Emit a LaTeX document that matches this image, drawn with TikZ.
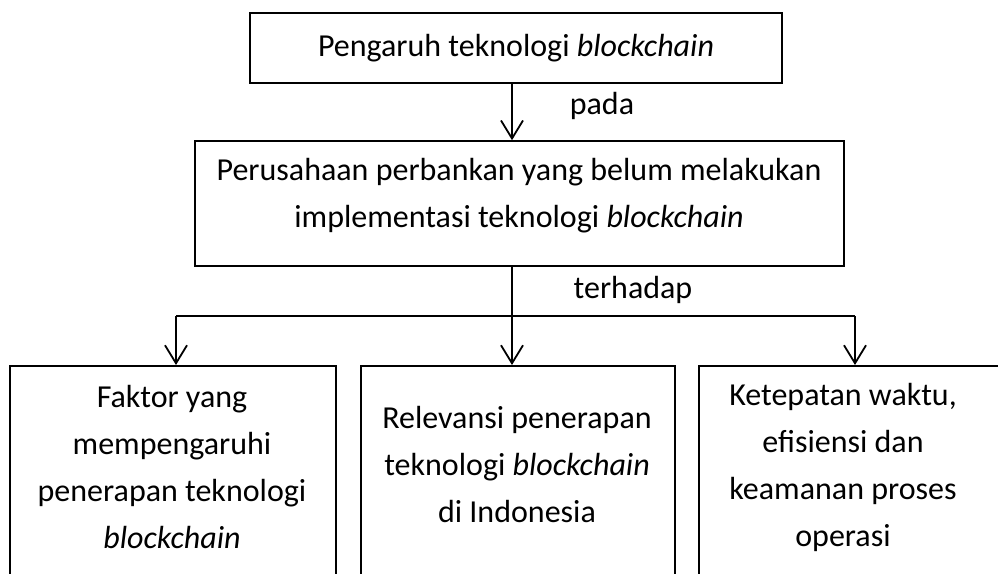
\documentclass[tikz,border=0pt]{standalone}
\usepackage{fontspec}
\setmainfont{Carlito}
\usetikzlibrary{arrows.meta}
\begin{document}
\begin{tikzpicture}[x=1pt,y=-1pt,
  box/.style={draw, line width=1.6pt, inner sep=0pt, rectangle},
  lbl/.style={font=\fontsize{32}{47}\selectfont, align=center, inner sep=0pt},
  conn/.style={line width=1.8pt},
  arr/.style={conn, -{Straight Barb[length=18pt,width=22pt]}}]
\useasboundingbox (0,0) rectangle (998,573);
\clip (0,0) rectangle (998,573);
% boxes
\node[box, minimum width=532pt, minimum height=70pt] (top) at (516,48) {};
\node[box, minimum width=649pt, minimum height=125pt] (mid) at (519.5,203.5) {};
\node[box, anchor=north west, minimum width=326pt, minimum height=260pt] (b1) at (9,365) {};
\node[box, anchor=north west, minimum width=314pt, minimum height=260pt] (b2) at (360,365) {};
\node[box, anchor=north west, minimum width=320pt, minimum height=260pt] (b3) at (698,365) {};
% texts
\node[lbl] (ttop) at (516,48) {Pengaruh teknologi \textit{blockchain}};
\node[lbl] (tmid) at (519,196) {Perusahaan perbankan yang belum melakukan\\implementasi teknologi \textit{blockchain}};
\node[lbl] (tb1) at (172,467) {Faktor yang\\mempengaruhi\\penerapan teknologi\\\textit{blockchain}};
\node[lbl] (tb2) at (517,464) {Relevansi penerapan\\teknologi \textit{blockchain}\\di Indonesia};
\node[lbl] (tb3) at (843,467) {Ketepatan waktu,\\efisiensi dan\\keamanan proses\\operasi};
\node[lbl] (pada) at (602,106) {pada};
\node[lbl] (terhadap) at (633,290) {terhadap};
% connectors
\coordinate (s) at (512,0);
\coordinate (jl) at (176,316);
\coordinate (jr) at (855,316);
\draw[arr] (s |- top.south) -- (s |- mid.north);
\draw[arr] (s |- mid.south) -- (s |- b2.north);
\draw[conn] (jl) -- (jr);
\draw[arr] (jl) -- (jl |- b1.north);
\draw[arr] (jr) -- (jr |- b3.north);
\end{tikzpicture}
\end{document}
